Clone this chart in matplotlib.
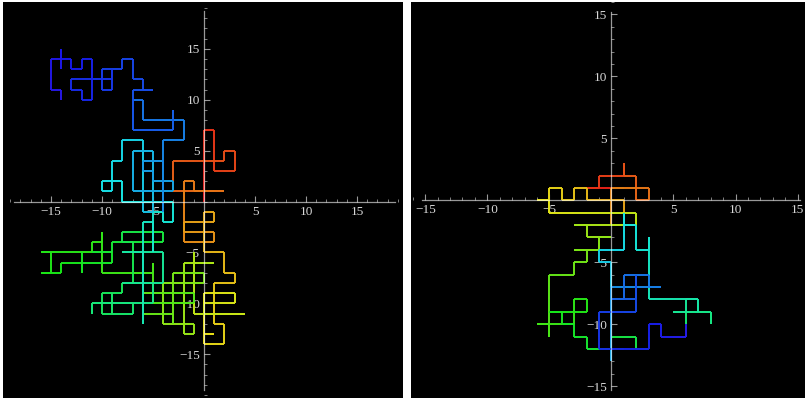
import numpy as np
import matplotlib
matplotlib.use("Agg")
import matplotlib.pyplot as plt
from matplotlib.collections import LineCollection
from matplotlib.colors import hsv_to_rgb
from matplotlib.ticker import MultipleLocator

# corner points of the two lattice walks, start -> end
left_walk = [
    # red / orange, round the origin
    (0, 0), (0, 7), (1, 7), (1, 3), (3, 3), (3, 5), (2, 5), (2, 4), (-3, 4), (-3, 1), (2, 1),
    (-1, 1), (-1, 2), (-2, 2), (-2, -4), (1, -4), (1, -3), (-2, -3), (-2, -2), (1, -2), (1, -1),
    (0, -1), (0, -5), (2, -5),
    # yellow, below the origin
    (2, -7), (3, -7), (3, -8), (1, -8), (1, -12), (2, -12), (2, -14), (0, -14), (0, -13),
    (1, -13), (0, -13), (0, -9), (3, -9), (3, -10), (0, -10), (0, -11), (4, -11), (-1, -11),
    (-1, -5), (-1, -6), (1, -6), (-2, -6), (-2, -13), (-1, -13), (-1, -12), (-4, -12),
    (-4, -8), (0, -8), (0, -7), (-3, -7), (-3, -12), (-3, -11), (-6, -11), (-6, -9), (-1, -9),
    (-1, -10), (-5, -10), (-5, -6), (-5, -7),
    # green, lower left
    (-10, -7), (-10, -3), (-10, -4), (-11, -4), (-11, -5), (-16, -5), (-15, -5), (-15, -7),
    (-16, -7), (-14, -7), (-14, -6), (-12, -6), (-12, -5), (-12, -7), (-12, -6), (-9, -6),
    (-9, -5), (-11, -5), (-9, -5), (-9, -4), (-4, -4), (-4, -3), (-8, -3), (-8, -4), (-7, -4),
    # cyan
    (-7, -8), (-8, -8), (-8, -9), (-10, -9), (-10, -11), (-9, -11), (-9, -9), (-9, -11),
    (-7, -11), (-7, -10), (-11, -10), (-11, -11), (-11, -10), (-5, -10), (-5, -8), (-8, -8),
    (-4, -8), (-4, -5), (-8, -5), (-6, -5), (-6, -12), (-6, -2), (-5, -2), (-5, -5), (-5, -1),
    (-4, -1), (-4, -2), (-3, -2), (-3, 0), (-8, 0), (-8, 2), (-10, 2), (-10, 1), (-9, 1),
    (-9, 4), (-8, 4), (-8, 6), (-6, 6), (-6, -1), (-5, -1), (-5, 5), (-7, 5), (-7, 1), (-3, 1),
    # blue
    (-3, 2), (-5, 2), (-5, 3), (-6, 3), (-6, 4), (-4, 4), (-4, -1), (-4, 6), (-2, 6), (-2, 8),
    (-6, 8), (-6, 10), (-7, 10), (-7, 7), (-3, 7), (-3, 9), (-3, 7), (-7, 7), (-7, 11), (-5, 11),
    (-6, 11), (-6, 12), (-7, 12), (-7, 14), (-8, 14), (-8, 13),
    # dark blue, top left
    (-10, 13), (-10, 11), (-9, 11), (-9, 13), (-9, 12), (-13, 12), (-13, 11), (-12, 11),
    (-12, 10), (-11, 10), (-11, 14), (-12, 14), (-12, 13), (-13, 13), (-13, 14), (-14, 14),
    (-14, 15), (-14, 13), (-14, 14), (-15, 14), (-15, 11), (-14, 11), (-14, 10),
]

right_walk = [
    (0, 0), (0, 1), (-1, 1), (-2, 1), (-1, 1), (-1, 2), (1, 2), (1, 3), (1, 2), (2, 2), (2, 0),
    (3, 0), (3, 1), (0, 1), (0, -2), (1, -2), (1, 0), (-2, 0), (-2, 1), (-3, 1), (-3, 0),
    (-4, 0), (-4, 1), (-5, 1), (-5, 0), (-6, 0), (-5, 0), (-5, -1), (2, -1), (2, -2), (-3, -2),
    (-2, -2), (-2, -3), (0, -3), (-1, -3), (-1, -4), (-3, -4), (-2, -4), (-2, -5), (-3, -5),
    (-3, -6), (-5, -6), (-5, -11), (-5, -10), (-6, -10), (-3, -10), (-3, -8), (-2, -8),
    (-2, -9), (-5, -9), (-4, -9), (-4, -10), (-3, -10), (-3, -11), (-2, -11), (-2, -12),
    (0, -12), (0, -11), (2, -11), (2, -12), (3, -12), (3, -10), (4, -10), (4, -11), (6, -11),
    (6, -9), (8, -9), (8, -10), (8, -9), (5, -9), (6, -9), (6, -8), (7, -8), (7, -9), (7, -8),
    (3, -8), (3, -3), (3, -4), (2, -4), (2, -2), (1, -2), (1, -1), (1, -4), (-1, -4), (-1, -5),
    (0, -5), (0, -13), (0, -7), (4, -7), (3, -7), (3, -6), (1, -6), (1, -8), (0, -8), (2, -8),
    (2, -6), (2, -9), (0, -9), (-1, -9), (-1, -12), (3, -12), (3, -10), (4, -10), (4, -11),
    (6, -11), (6, -10),
]

major_ticks = [-15, -10, -5, 5, 10, 15]


def unit_steps(corners):
    pts = [corners[0]]
    for (x1, y1) in corners[1:]:
        x0, y0 = pts[-1]
        while x0 != x1:
            x0 += 1 if x1 > x0 else -1
            pts.append((x0, y0))
        while y0 != y1:
            y0 += 1 if y1 > y0 else -1
            pts.append((x0, y0))
    return np.array(pts, dtype=float)


def draw_walk(ax, corners):
    pts = unit_steps(corners)
    segs = np.stack([pts[:-1], pts[1:]], axis=1)
    t = np.linspace(0, 1, len(segs))
    # red at the start through the rainbow to blue at the end
    hsv = np.column_stack([0.68 * t ** 0.85, np.full_like(t, 0.9), np.full_like(t, 0.9)])
    lc = LineCollection(segs, colors=hsv_to_rgb(hsv), linewidths=1.4, zorder=2,
                        capstyle='butt')
    ax.add_collection(lc)


def style_axes(ax, xlim, ylim, xb, yb):
    ax.set_facecolor('black')
    ax.set_xlim(*xlim)
    ax.set_ylim(*ylim)
    for s in ['top', 'right']:
        ax.spines[s].set_visible(False)
    ax.spines['left'].set_position(('data', 0))
    ax.spines['bottom'].set_position(('data', 0))
    ax.spines['bottom'].set_bounds(*xb)
    ax.spines['left'].set_bounds(*yb)
    for s in ['left', 'bottom']:
        ax.spines[s].set_color((1, 1, 1, 0.6))
        ax.spines[s].set_linewidth(0.9)
        ax.spines[s].set_zorder(3)
    ax.set_xticks(major_ticks)
    ax.set_yticks(major_ticks)
    ax.xaxis.set_minor_locator(MultipleLocator(1))
    ax.yaxis.set_minor_locator(MultipleLocator(1))
    ax.tick_params(which='major', direction='in', length=4, width=0.8,
                   color=(1, 1, 1, 0.6), labelcolor='#d8d8d8', labelsize=9.5, pad=3)
    ax.tick_params(which='minor', direction='in', length=2.2, width=0.7,
                   color=(1, 1, 1, 0.5))
    for lab in ax.get_xticklabels() + ax.get_yticklabels():
        lab.set_fontfamily('Liberation Serif')


fig = plt.figure(figsize=(8.06, 4.0), dpi=100, facecolor='white')

ax1 = fig.add_axes([3 / 806, 2 / 400, 400 / 806, 396 / 400])
draw_walk(ax1, left_walk)
style_axes(ax1, (-19.7, 19.5), (-19.3, 19.6), (-18.6, 18.7), (-18.5, 18.7))

ax2 = fig.add_axes([411 / 806, 2 / 400, 394 / 806, 396 / 400])
draw_walk(ax2, right_walk)
style_axes(ax2, (-16.15, 15.6), (-15.95, 16.0), (-15.3, 15.2), (-15.3, 15.2))

fig.savefig('out.png', dpi=100, facecolor='white')
